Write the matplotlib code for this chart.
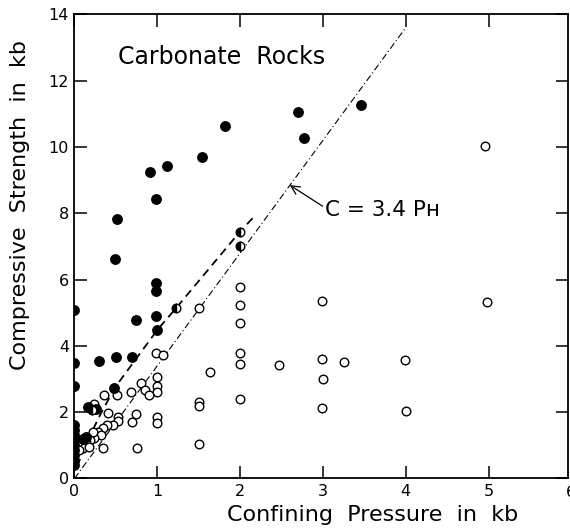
import matplotlib
matplotlib.use("Agg")
import matplotlib.pyplot as plt
import numpy as np

# ---- data ----
filled_x = [0, 0, 0, 0, 0, 0, 0, 0, 0, 0, 0, 0,
            0.30, 0.50, 0.70, 0.48, 0.74, 0.99, 1.00, 0.99, 0.99, 0.49, 0.51,
            0.98, 0.91, 1.12, 1.54, 1.82, 2.70, 2.77, 3.46, 0.16, 0.26, 0.14, 0.10]
filled_y = [5.08, 3.48, 2.80, 1.62, 1.45, 1.30, 1.15, 1.00, 0.85, 0.70, 0.55, 0.42,
            3.53, 3.68, 3.65, 2.73, 4.77, 4.90, 4.47, 5.90, 5.66, 6.61, 7.82,
            8.43, 9.25, 9.44, 9.70, 10.63, 11.07, 10.26, 11.27, 2.15, 2.10, 1.26, 1.18]

half_x = [2.00, 2.00, 1.23, 0.21]
half_y = [7.45, 7.02, 5.15, 2.06]

open_x = [4.96, 4.98, 2.99, 2.99, 3.00, 2.99, 3.25, 3.99, 4.00, 2.47,
          2.00, 2.00, 2.00, 2.00, 2.00, 2.00, 1.64, 1.50, 1.50, 1.50, 1.50,
          0.99, 1.07, 1.00, 1.00, 1.00, 0.80, 0.85, 0.90, 0.68, 0.36, 0.51,
          1.00, 1.00, 0.74, 0.70, 0.76, 0.35, 0.40, 0.52, 0.52, 0.46, 0.39,
          0.34, 0.28, 0.32, 0.24, 0.22, 0.19, 0.14, 0.10, 0.18, 0.04, 0.06, 0.23]
open_y = [10.04, 5.33, 5.35, 3.61, 3.00, 2.12, 3.50, 3.56, 2.05, 3.42,
          5.78, 5.23, 4.69, 3.79, 3.44, 2.40, 3.20, 5.13, 2.30, 2.20, 1.04,
          3.78, 3.74, 3.05, 2.80, 2.60, 2.88, 2.68, 2.52, 2.62, 2.52, 2.52,
          1.84, 1.66, 1.95, 1.69, 0.93, 0.93, 1.97, 1.84, 1.72, 1.61, 1.61,
          1.51, 1.41, 1.31, 1.21, 1.41, 1.16, 1.11, 0.91, 0.96, 1.11, 0.86, 2.25]

# dashed (fitted) curve
curve_x = [0.03, 0.08, 0.20, 0.32, 0.49, 1.00, 1.23, 2.00, 2.15]
curve_y = [0.36, 0.66, 1.36, 1.97, 2.75, 4.48, 5.15, 7.45, 7.85]

# C = 3.4 P_H line
line_slope = 3.4
line_x = [0.0, 4.0]

x_ticks = [0, 1, 2, 3, 4, 5]
y_ticks = [0, 2, 4, 6, 8, 10, 12, 14]

# ---- figure ----
plt.rcParams['font.family'] = ['DejaVu Sans']
fig = plt.figure(figsize=(5.7, 5.3), dpi=100)
ax = fig.add_axes([0.1307, 0.0972, 0.8658, 0.8756])

ax.plot(line_x, [line_slope * v for v in line_x], color='black', lw=0.8,
        linestyle=(0, (6, 2.5, 1, 2.5)), zorder=1)
ax.plot(curve_x, curve_y, color='black', lw=1.3, linestyle=(0, (4.5, 3)), zorder=1)

ms = 6.2
ax.plot(open_x, open_y, 'o', ms=ms, mfc='white', mec='black', mew=1.0, ls='none', zorder=2)
ax.plot(filled_x, filled_y, 'o', ms=ms + 0.6, mfc='black', mec='black', mew=1.0, ls='none', zorder=3)
ax.plot(half_x, half_y, 'o', ms=ms, fillstyle='left', mfc='black', mfcalt='white',
        mec='black', mew=1.0, ls='none', zorder=3)

ax.set_xlim(0, 5.96)
ax.set_ylim(0, 14)
ax.set_xticks(x_ticks)
ax.set_yticks(y_ticks)
ax.set_xticklabels([str(t) for t in x_ticks])
ax.set_yticklabels([str(t) for t in y_ticks])
ax.text(6, -0.2, '6', ha='center', va='top', fontsize=11.5, clip_on=False)

ax.tick_params(axis='both', direction='in', length=9, width=1.1, labelsize=11.5, pad=4,
               top=True, right=True)
for s in ax.spines.values():
    s.set_linewidth(1.3)

ax.text(0.525, 12.71, 'Carbonate  Rocks', ha='left', va='center', fontsize=17)
ax.annotate('C = 3.4 P\u029c', xy=(2.6, 8.85), xytext=(3.03, 8.1),
            ha='left', va='center', fontsize=15.5,
            arrowprops=dict(arrowstyle='->', lw=0.9, color='black',
                            shrinkA=0, shrinkB=0, relpos=(0, 0.6)))

fig.text(0.035, 0.613, 'Compressive  Strength  in  kb', rotation=90,
         ha='center', va='center', fontsize=16)
fig.text(0.653, 0.028, 'Confining  Pressure  in  kb', ha='center', va='center', fontsize=16)

fig.savefig('out.png', dpi=100)
